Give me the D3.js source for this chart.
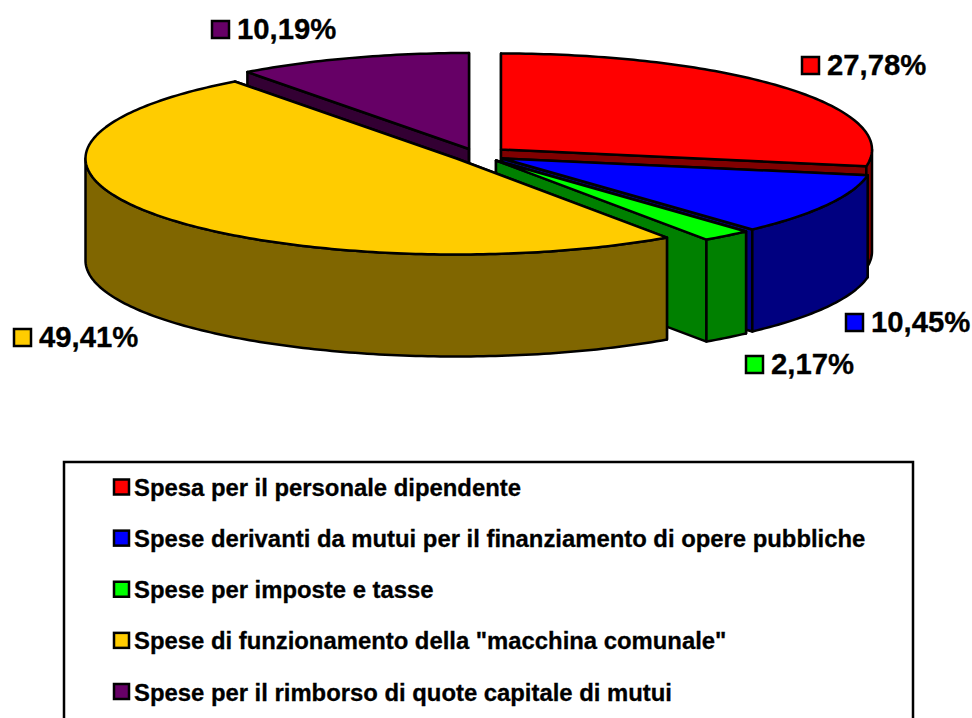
<html>
<head>
<title>Spese</title>
<script src="https://d3js.org/d3.v7.min.js" charset="utf-8"></script>
<style>
html, body { margin: 0; padding: 0; background: white; overflow: hidden; }
text { font-family: "Liberation Sans", Arial, sans-serif; font-weight: bold; fill: black; stroke: black; stroke-width: 0.3; }
</style>
</head>
<body>
<script>
// chart data
var categories = [
	'Spesa per il personale dipendente',
	'Spese derivanti da mutui per il finanziamento di opere pubbliche',
	'Spese per imposte e tasse',
	'Spese di funzionamento della "macchina comunale"',
	'Spese per il rimborso di quote capitale di mutui'
];
var values = [27.78, 10.45, 2.17, 49.41, 10.19];
var valueLabels = ['27,78%', '10,45%', '2,17%', '49,41%', '10,19%'];
var topColors = ['#ff0000', '#0000ff', '#00ff00', '#ffcc00', '#660066'];
var sideColors = ['#800000', '#000080', '#008000', '#806600', '#330033'];

var width = 972, height = 718;

// pie geometry: tilted ellipse + extrusion, each slice pulled out to its own centre
var rx = 371, ry = 96, depth = 102;
var sliceCentres = [[501, 149.5], [502.3, 158.5], [496, 160.5], [456.5, 158.5], [469, 149]];

var svg = d3.select('body').append('svg')
	.attr('width', width)
	.attr('height', height)
	.style('display', 'block');

var slices = d3.pie().sort(null).value(function(d) { return d; })(values);

// projected point on the ellipse, angle clockwise from top
function rim(i, a, dy) {
	return [sliceCentres[i][0] + rx * Math.sin(a), sliceCentres[i][1] - ry * Math.cos(a) + (dy || 0)];
}
function apex(i, dy) {
	return [sliceCentres[i][0], sliceCentres[i][1] + (dy || 0)];
}
function arcPoints(i, a0, a1, dy) {
	var n = Math.max(2, Math.ceil((a1 - a0) * 60));
	return d3.range(n + 1).map(function(k) {
		return rim(i, a0 + (a1 - a0) * k / n, dy);
	});
}

var line = d3.line();
var g = svg.append('g')
	.attr('stroke', 'black')
	.attr('stroke-width', 2.5)
	.attr('stroke-linejoin', 'round');

// back to front: purple, red, blue, green, yellow
[4, 0, 1, 2, 3].forEach(function(i) {
	var s = slices[i];
	var sg = g.append('g');

	// the two cut faces
	[s.startAngle, s.endAngle].forEach(function(a) {
		sg.append('path')
			.attr('fill', sideColors[i])
			.attr('d', line([apex(i), rim(i, a), rim(i, a, depth), apex(i, depth)]) + 'Z');
	});

	// outer wall, only the part that faces the viewer
	var a0 = Math.max(s.startAngle, Math.PI / 2);
	var a1 = Math.min(s.endAngle, Math.PI * 3 / 2);
	if (a1 > a0) {
		var topEdge = arcPoints(i, a0, a1, 0);
		var bottomEdge = arcPoints(i, a0, a1, depth).reverse();
		sg.append('path')
			.attr('fill', sideColors[i])
			.attr('d', line(topEdge.concat(bottomEdge)) + 'Z');
	}

	// top surface
	sg.append('path')
		.attr('fill', topColors[i])
		.attr('d', line([apex(i)].concat(arcPoints(i, s.startAngle, s.endAngle, 0))) + 'Z');
});

// data labels: key square and percentage
var labelPos = [[801, 56], [845, 313], [745, 355], [13, 328], [211, 20]];
var labels = svg.append('g');
valueLabels.forEach(function(t, i) {
	labels.append('rect')
		.attr('x', labelPos[i][0] + 1)
		.attr('y', labelPos[i][1] + 1)
		.attr('width', 17)
		.attr('height', 17)
		.attr('fill', topColors[i])
		.attr('stroke', 'black')
		.attr('stroke-width', 2.5);
	labels.append('text')
		.attr('x', labelPos[i][0] + 26)
		.attr('y', labelPos[i][1] + 19)
		.attr('font-size', 29.3)
		.text(t);
});

// legend, box runs past the bottom of the picture
var legend = svg.append('g');
legend.append('rect')
	.attr('x', 64)
	.attr('y', 462)
	.attr('width', 849)
	.attr('height', 270)
	.attr('fill', 'none')
	.attr('stroke', 'black')
	.attr('stroke-width', 2.5);

var legendY = d3.scalePoint().domain(d3.range(categories.length)).range([487.5, 692]);
categories.forEach(function(c, i) {
	legend.append('rect')
		.attr('x', 114)
		.attr('y', legendY(i) - 8)
		.attr('width', 15)
		.attr('height', 15)
		.attr('fill', topColors[i])
		.attr('stroke', 'black')
		.attr('stroke-width', 2.5);
	legend.append('text')
		.attr('x', 134)
		.attr('y', legendY(i) + 8.5)
		.attr('font-size', 23.85)
		.text(c);
});
</script>
</body>
</html>
